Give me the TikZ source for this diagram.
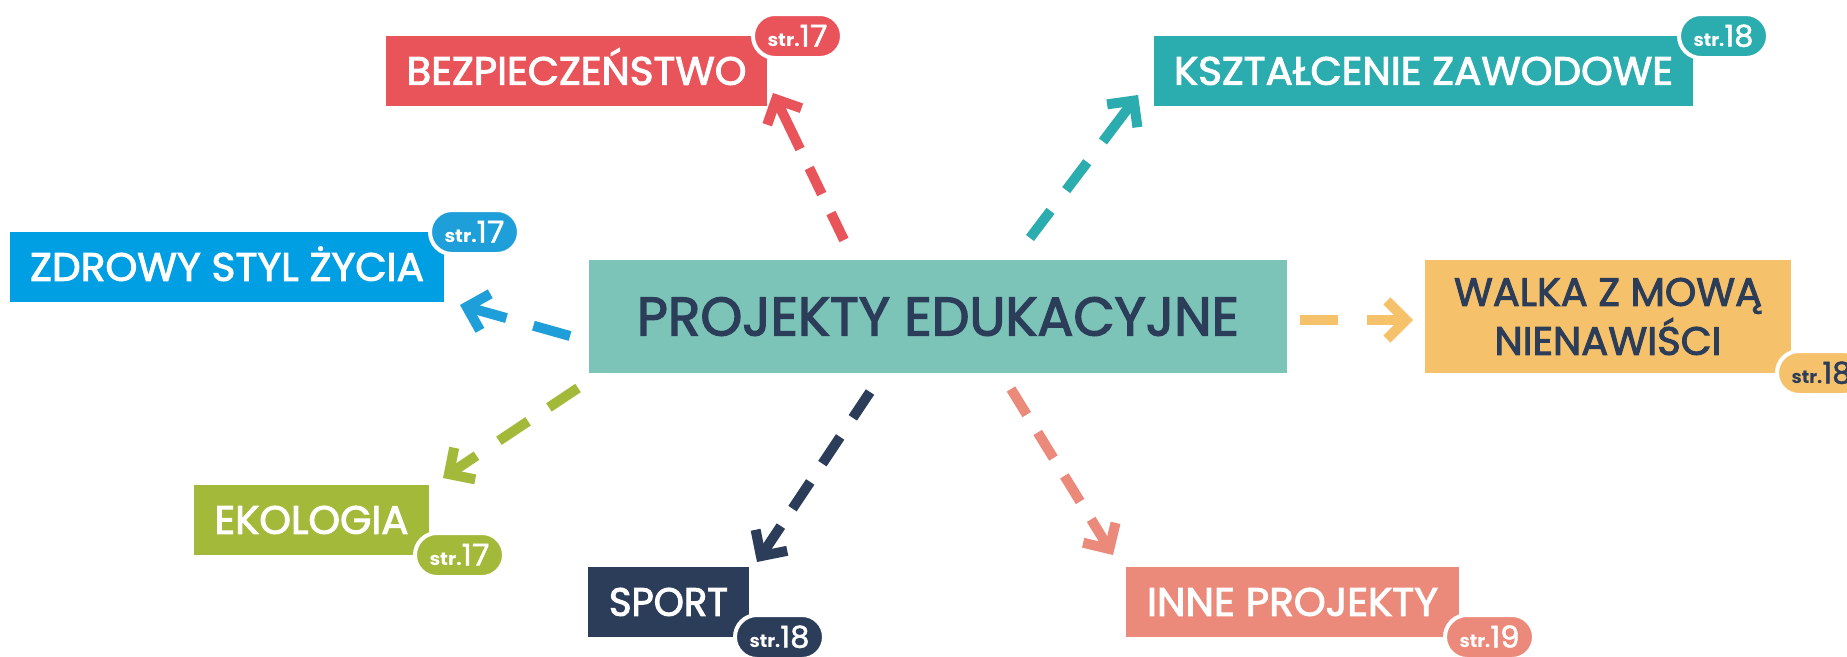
\documentclass[tikz,border=0pt]{standalone}
\usepackage{fontspec}
\setmainfont{Poppins}
\newfontfamily\lblfont{Poppins}[RawFeature={embolden=2.5}]
\newfontfamily\badgefont{Poppins}[RawFeature={embolden=1.5}]
\usetikzlibrary{arrows.meta}
\definecolor{cCent}{HTML}{7CC4B8}
\definecolor{cNavy}{HTML}{2C3D5A}
\definecolor{cRed}{HTML}{E9545A}
\definecolor{cTeal}{HTML}{2BACAE}
\definecolor{cBlue}{HTML}{009FE3}
\definecolor{cBlueB}{HTML}{1F9FD9}
\definecolor{cYel}{HTML}{F5C26B}
\definecolor{cGreen}{HTML}{A3B93A}
\definecolor{cSalm}{HTML}{EB8A7A}
\newsavebox\fitbox
\newcommand\fitx[2]{\sbox\fitbox{#2}\pgfmathsetmacro\fitfac{#1/\the\wd\fitbox}\scalebox{\fitfac}[1]{\usebox\fitbox}}
\newcommand\strnum[1]{\fitx{60}{{\bfseries\fontsize{18}{18}\selectfont str.}{\badgefont\fontsize{30}{30}\selectfont #1}}}
\tikzset{
  box/.style={fill=#1, inner sep=0pt, outer sep=0pt},
  lbl/.style={text=white, font=\lblfont\fontsize{39.5}{48}\selectfont, text height=27.5pt, text depth=0pt},
  badge/.style={fill=#1, draw=white, line width=4pt, rounded corners=22pt, minimum width=89pt, minimum height=44pt, inner sep=0pt, text=white, text height=21pt, text depth=0pt},
  conn/.style={draw=#1, line width=10pt, -{Straight Barb[length=19pt,width=38pt]}},
}
\begin{document}
\begin{tikzpicture}[x=1pt,y=1pt]
\useasboundingbox[fill=white] (0,0) rectangle (1847,-656);
% boxes
\node[box=cCent, minimum width=698pt, minimum height=113pt, text=cNavy, font=\lblfont\fontsize{54.3}{60}\selectfont, text height=38pt, text depth=0pt] (pe) at (938,-316.5) {\fitx{602}{PROJEKTY EDUKACYJNE}};
\node[box=cRed, minimum width=381pt, minimum height=70pt, lbl] (bez) at (576.5,-71) {\fitx{340}{BEZPIECZEŃSTWO}};
\node[box=cTeal, minimum width=539pt, minimum height=70pt, lbl] (ksz) at (1423.5,-71) {\fitx{499}{KSZTAŁCENIE ZAWODOWE}};
\node[box=cBlue, minimum width=434pt, minimum height=70pt, lbl] (zdr) at (227,-267) {\fitx{394}{ZDROWY STYL ŻYCIA}};
\node[box=cYel, minimum width=366pt, minimum height=113pt, text=cNavy, font=\lblfont\fontsize{39.5}{49}\selectfont, align=center] (wal) at (1608,-316.5) {\fitx{308}{WALKA Z MOWĄ}\\\fitx{227}{NIENAWIŚCI}};
\node[box=cGreen, minimum width=235pt, minimum height=70pt, lbl] (eko) at (311.5,-520) {\fitx{194}{EKOLOGIA}};
\node[box=cNavy, minimum width=161pt, minimum height=70pt, lbl] (spo) at (668.5,-602) {\fitx{119}{SPORT}};
\node[box=cSalm, minimum width=333pt, minimum height=70pt, lbl] (inn) at (1292.5,-602) {\fitx{291}{INNE PROJEKTY}};
% badges
\node[badge=cRed] (bezB) at ([xshift=30.5pt]bez.north east) {\strnum{17}};
\node[badge=cTeal] (kszB) at ([xshift=30.5pt]ksz.north east) {\strnum{18}};
\node[badge=cBlueB] (zdrB) at ([xshift=30.5pt]zdr.north east) {\strnum{17}};
\node[badge=cYel, text=cNavy] (walB) at ([xshift=30.5pt]wal.south east) {\strnum{18}};
\node[badge=cGreen] (ekoB) at ([xshift=30.5pt]eko.south east) {\strnum{17}};
\node[badge=cNavy] (spoB) at ([xshift=30.5pt]spo.south east) {\strnum{18}};
\node[badge=cSalm] (innB) at ([xshift=30.5pt]inn.south east) {\strnum{19}};
% connectors
\draw[conn=cRed, dash pattern=on 30pt off 21pt on 29pt off 21pt on 300pt off 1pt] ([shift={(-94,20)}]pe.north) -- ([shift={(196.5,13)}]bez.south);
\draw[conn=cTeal, dash pattern=on 34pt off 26pt on 35pt off 26pt on 300pt off 1pt] ([shift={(92,22)}]pe.north) -- ([shift={(-285.5,11)}]ksz.south);
\draw[conn=cBlueB, dash pattern=on 38pt off 28pt on 300pt off 1pt] ([shift={(-19,-19.5)}]pe.west) -- ([shift={(16,-3)}]zdr.south east);
\draw[conn=cGreen, dash pattern=on 35pt off 25pt on 35pt off 27pt on 300pt off 1pt] ([shift={(-11,-15)}]pe.south west) -- ([shift={(14,7)}]eko.north east);
\draw[conn=cNavy, dash pattern=on 31pt off 23pt on 32pt off 22pt on 32pt off 21pt on 300pt off 1pt] ([shift={(-68,-19)}]pe.south) -- ([shift={(8,5)}]spo.north east);
\draw[conn=cSalm, dash pattern=on 30pt off 21pt on 30pt off 21pt on 30pt off 21pt on 300pt off 1pt] ([shift={(73,-16)}]pe.south) -- ([shift={(-13,12)}]inn.north west);
\draw[conn=cYel, dash pattern=on 38pt off 29pt on 300pt off 1pt] ([shift={(13,-3.5)}]pe.east) -- ([shift={(-12,-3.5)}]wal.west);
\end{tikzpicture}
\end{document}
